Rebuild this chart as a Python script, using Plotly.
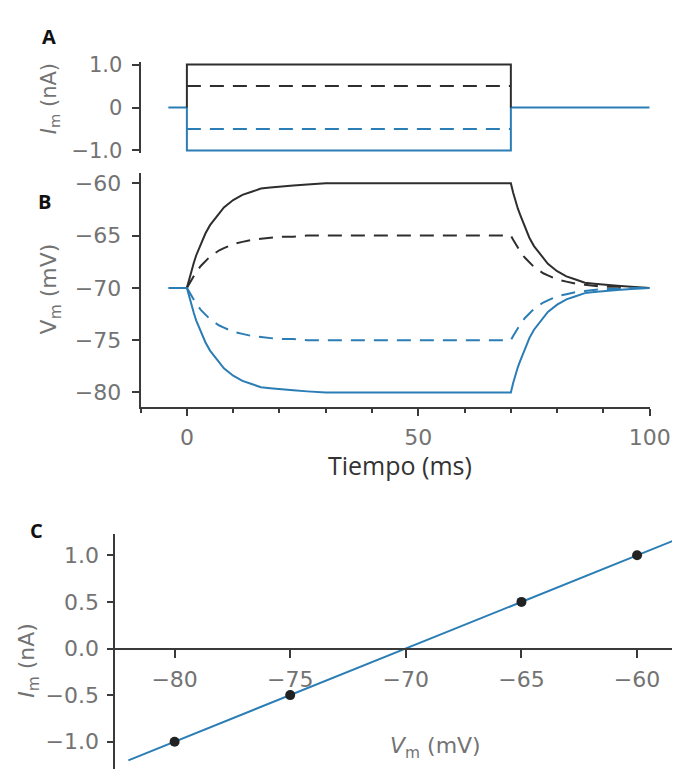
import plotly.graph_objects as go

W, H = 693, 779

# ---------------- data ----------------
# Panel A: injected current steps (nA)
step_on, step_off = 0, 70
baseline_t = [-4, 0]
after_t = [70, 100]
current_levels = [1.0, 0.5, -0.5, -1.0]

# Panel B: membrane potential traces
t_on = [0, 0.5, 1, 1.5, 2, 3, 4, 5, 6, 7, 8, 10, 12, 14, 16, 18, 20, 23, 26, 30, 40, 50, 60, 70]
t_off = [70, 70.5, 71, 71.5, 72, 73, 74, 75, 76, 77, 78, 80, 82, 84, 86, 88, 90, 93, 96, 100]
v_p10_on = [-70, -69.1, -68.3, -67.6, -66.9, -65.8, -64.8, -64.0, -63.4, -62.8, -62.3, -61.6, -61.1, -60.8, -60.5, -60.4, -60.3, -60.2, -60.1, -60.0, -60.0, -60.0, -60.0, -60.0]
v_p10_off = [-60, -60.9, -61.7, -62.4, -63.0, -64.2, -65.2, -66.0, -66.6, -67.2, -67.7, -68.4, -68.9, -69.2, -69.5, -69.6, -69.7, -69.8, -69.9, -70.0]
v_p5_on = [-70, -69.6, -69.2, -68.8, -68.5, -67.9, -67.4, -67.0, -66.7, -66.4, -66.2, -65.8, -65.6, -65.4, -65.3, -65.2, -65.1, -65.1, -65.0, -65.0, -65.0, -65.0, -65.0, -65.0]
v_p5_off = [-65, -65.4, -65.8, -66.2, -66.5, -67.1, -67.6, -68.0, -68.3, -68.6, -68.8, -69.2, -69.4, -69.6, -69.7, -69.8, -69.9, -69.9, -70.0, -70.0]
v_m5_on = [-70, -70.4, -70.8, -71.2, -71.5, -72.1, -72.6, -73.0, -73.3, -73.6, -73.8, -74.2, -74.4, -74.6, -74.7, -74.8, -74.9, -74.9, -75.0, -75.0, -75.0, -75.0, -75.0, -75.0]
v_m5_off = [-75, -74.6, -74.2, -73.8, -73.5, -72.9, -72.4, -72.0, -71.7, -71.4, -71.2, -70.8, -70.6, -70.4, -70.3, -70.2, -70.1, -70.1, -70.0, -70.0]
v_m10_on = [-70, -70.9, -71.7, -72.4, -73.1, -74.2, -75.2, -76.0, -76.6, -77.2, -77.7, -78.4, -78.9, -79.2, -79.5, -79.6, -79.7, -79.8, -79.9, -80.0, -80.0, -80.0, -80.0, -80.0]
v_m10_off = [-80, -79.1, -78.3, -77.6, -77.0, -75.8, -74.8, -74.0, -73.4, -72.8, -72.3, -71.6, -71.1, -70.8, -70.5, -70.4, -70.3, -70.2, -70.1, -70.0]
v_rest = -70

# Panel C: I-V relation
iv_v = [-80, -75, -65, -60]
iv_i = [-1.0, -0.5, 0.5, 1.0]
fit_v = [-82, -58]
fit_i = [-1.2, 1.2]

ticks_A = [-1, 0, 1]
ticks_A_text = ["\u22121.0", "0", "1.0"]
ticks_B = [-80, -75, -70, -65, -60]
ticks_B_text = ["\u221280", "\u221275", "\u221270", "\u221265", "\u221260"]
ticks_Bx = [0, 50, 100]
ticks_Cx = [-80, -75, -70, -65, -60]
ticks_Cx_text = ["\u221280", "\u221275", "\u221270", "\u221265", "\u221260"]
ticks_Cy = [-1.0, -0.5, 0.0, 0.5, 1.0]
ticks_Cy_text = ["\u22121.0", "\u22120.5", "0.0", "0.5", "1.0"]

# ---------------- style ----------------
BLUE = "#2a7db5"
BLACK = "#2e2e2e"
AX = "#3a3a3a"
TICKC = "#737373"
FONT = "DejaVu Sans"
DASH = "14px,9px"


def px(x):
    return x / W


def py(y):
    return 1 - y / H


fig = go.Figure()

# Panel A
fig.add_trace(go.Scatter(x=baseline_t + [step_on, step_on, step_off, step_off] + after_t,
                         y=[0, 0, 0, current_levels[3], current_levels[3], 0, 0, 0],
                         mode="lines", line=dict(color=BLUE, width=2),
                         xaxis="x", yaxis="y", showlegend=False))
fig.add_trace(go.Scatter(x=[step_on, step_on, step_off, step_off],
                         y=[0, current_levels[0], current_levels[0], 0],
                         mode="lines", line=dict(color=BLACK, width=2),
                         xaxis="x", yaxis="y", showlegend=False))
fig.add_trace(go.Scatter(x=[step_on, step_off], y=[current_levels[1]] * 2,
                         mode="lines", line=dict(color=BLACK, width=2, dash=DASH),
                         xaxis="x", yaxis="y", showlegend=False))
fig.add_trace(go.Scatter(x=[step_on, step_off], y=[current_levels[2]] * 2,
                         mode="lines", line=dict(color=BLUE, width=2, dash=DASH),
                         xaxis="x", yaxis="y", showlegend=False))

# Panel B
for von, voff, col, dash in [(v_p10_on, v_p10_off, BLACK, "solid"),
                             (v_p5_on, v_p5_off, BLACK, DASH),
                             (v_m5_on, v_m5_off, BLUE, DASH),
                             (v_m10_on, v_m10_off, BLUE, "solid")]:
    fig.add_trace(go.Scatter(x=t_on + t_off[1:], y=von + voff[1:], mode="lines",
                             line=dict(color=col, width=2, dash=dash),
                             xaxis="x2", yaxis="y2", showlegend=False))
fig.add_trace(go.Scatter(x=baseline_t, y=[v_rest, v_rest], mode="lines",
                         line=dict(color=BLUE, width=2), xaxis="x2", yaxis="y2", showlegend=False))

# Panel C
fig.add_trace(go.Scatter(x=fit_v, y=fit_i, mode="lines", line=dict(color=BLUE, width=2),
                         xaxis="x3", yaxis="y3", showlegend=False))
fig.add_trace(go.Scatter(x=iv_v, y=iv_i, mode="markers",
                         marker=dict(color="#222222", size=10),
                         xaxis="x3", yaxis="y3", showlegend=False))


def axis_style(size):
    return dict(showline=True, linecolor=AX, linewidth=2, ticks="outside",
                tickcolor=AX, tickwidth=2, showgrid=False, zeroline=False,
                tickfont=dict(family=FONT, size=size, color=TICKC))


xdom = [px(145), px(670)]
fig.update_layout(
    width=W, height=H, margin=dict(l=0, r=0, t=0, b=0),
    paper_bgcolor="white", plot_bgcolor="white",
    xaxis=dict(domain=xdom, range=[-10, 100], visible=False, anchor="y"),
    yaxis=dict(domain=[py(147.2), py(54.8)], range=[-1.05, 1.05], anchor="x",
               tickvals=ticks_A, ticktext=ticks_A_text, ticklen=7, ticklabelstandoff=5,
               **axis_style(21)),
    xaxis2=dict(domain=xdom, range=[-10, 100], anchor="y2", tickvals=ticks_Bx,
                ticklen=7, ticklabelstandoff=3,
                minor=dict(dtick=10, tick0=0, ticks="outside", ticklen=4, tickcolor=AX, tickwidth=2),
                **axis_style(22)),
    yaxis2=dict(domain=[py(408), py(168)], range=[-81.4, -59], anchor="x2",
                tickvals=ticks_B, ticktext=ticks_B_text, ticklen=7, ticklabelstandoff=6,
                **axis_style(22)),
    xaxis3=dict(domain=[px(119), 1.0], range=[-82.56, -58.49], anchor="free",
                position=py(655.5), tickvals=ticks_Cx, ticktext=ticks_Cx_text,
                ticklen=8, ticklabelstandoff=3, **axis_style(22)),
    yaxis3=dict(domain=[0, py(538)], range=[-1.293, 1.23], anchor="x3",
                tickvals=ticks_Cy, ticktext=ticks_Cy_text, ticklen=6, ticklabelstandoff=4,
                **axis_style(22)),
)

ann = []


def add_text(text, x, y, size, color, weight="normal", angle=0, family=FONT):
    ann.append(dict(text=text, x=px(x), y=py(y),
                    xref="paper", yref="paper", showarrow=False, textangle=angle,
                    xanchor="center", yanchor="middle",
                    font=dict(family=family, size=size, color=color, weight=weight)))


add_text("A", 51, 28, 20, "#111111", weight="bold", family="Open Sans")
add_text("B", 46, 197, 20, "#111111", weight="bold", family="Open Sans")
add_text("C", 38, 535, 20, "#111111", weight="bold", family="Open Sans")
add_text("<i>I</i><sub>m</sub> (nA)", 51, 92, 21, TICKC, angle=-90)
add_text("V<sub>m</sub> (mV)", 52, 287, 22, TICKC, angle=-90)
add_text("<i>I</i><sub>m</sub> (nA)", 30, 668, 22, TICKC, angle=-90)
add_text("Tiempo (ms)", 413, 467, 25, "#333333", family="Open Sans")
add_text("<i>V</i><sub>m</sub> (mV)", 449, 757, 22, TICKC)
fig.update_layout(annotations=ann)

fig.write_html("out.html")
